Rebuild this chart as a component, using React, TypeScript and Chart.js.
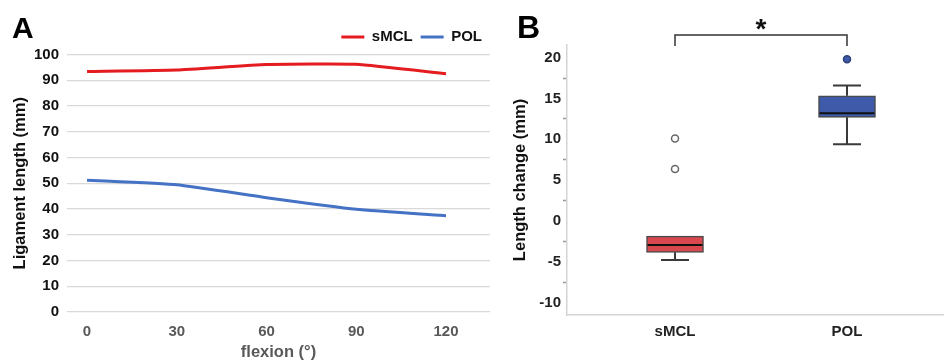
import React, { useEffect, useRef } from 'react';
import { Chart, registerables } from 'chart.js';

Chart.register(...registerables);

const FONT = "'Liberation Sans', Arial, Helvetica, sans-serif";
Chart.defaults.font.family = FONT;

// ---------- Panel A data ----------
const flexionAngles = [0, 30, 60, 90, 120];
const smclLength = [93.4, 94.0, 96.1, 96.2, 92.5];
const polLength = [51.2, 49.4, 44.4, 39.9, 37.4];
const lengthTicks = [0, 10, 20, 30, 40, 50, 60, 70, 80, 90, 100];

// ---------- Panel B data ----------
const groups = ['sMCL', 'POL'];
const groupPos = [1, 2];
const q1 = [-3.83, 12.7];
const medians = [-2.94, 13.2];
const q3 = [-1.84, 15.34];
const whiskerLow = [-4.78, 9.4];
const whiskerHigh = [-1.84, 16.6];
const outlierGroup = [1, 1, 2];
const outlierValues = [10.1, 6.37, 19.8];
const changeTicks = [-10, -7.5, -5, -2.5, 0, 2.5, 5, 7.5, 10, 12.5, 15, 17.5, 20];

const RED = '#E41B1F';
const BLUE = '#4472C4';
const BOX_RED = '#D9474F';
const BOX_BLUE = '#3F5AA8';

const panelLetter = (id: string, letter: string, x: number, y: number, size: number) => ({
  id,
  afterDraw(chart: any) {
    const ctx = chart.ctx;
    ctx.save();
    ctx.fillStyle = '#000';
    ctx.font = `bold ${size}px ${FONT}`;
    ctx.textAlign = 'left';
    ctx.textBaseline = 'alphabetic';
    ctx.fillText(letter, x, y);
    ctx.restore();
  },
});

const boxDetails = {
  id: 'boxDetails',
  afterDatasetsDraw(chart: any) {
    const { ctx } = chart;
    const xs = chart.scales.x;
    const ys = chart.scales.y;
    ctx.save();
    groupPos.forEach((g, i) => {
      const cx = xs.getPixelForValue(g);
      const half = 28.5;
      const cap = 14;
      ctx.strokeStyle = '#3a3a3a';
      ctx.lineWidth = 2;
      ctx.beginPath();
      ctx.moveTo(cx, ys.getPixelForValue(q1[i]));
      ctx.lineTo(cx, ys.getPixelForValue(whiskerLow[i]));
      ctx.moveTo(cx - cap, ys.getPixelForValue(whiskerLow[i]));
      ctx.lineTo(cx + cap, ys.getPixelForValue(whiskerLow[i]));
      if (whiskerHigh[i] > q3[i] + 0.01) {
        ctx.moveTo(cx, ys.getPixelForValue(q3[i]));
        ctx.lineTo(cx, ys.getPixelForValue(whiskerHigh[i]));
        ctx.moveTo(cx - cap, ys.getPixelForValue(whiskerHigh[i]));
        ctx.lineTo(cx + cap, ys.getPixelForValue(whiskerHigh[i]));
      }
      ctx.stroke();
      ctx.strokeStyle = '#111';
      ctx.lineWidth = 2;
      ctx.beginPath();
      ctx.moveTo(cx - half + 1, ys.getPixelForValue(medians[i]));
      ctx.lineTo(cx + half - 1, ys.getPixelForValue(medians[i]));
      ctx.stroke();
    });
    ctx.restore();
  },
  afterDraw(chart: any) {
    const { ctx, chartArea } = chart;
    const xs = chart.scales.x;
    const x1 = xs.getPixelForValue(groupPos[0]);
    const x2 = xs.getPixelForValue(groupPos[1]);
    const yTop = chartArea.top - 10;
    ctx.save();
    ctx.strokeStyle = '#333';
    ctx.lineWidth = 1.5;
    ctx.beginPath();
    ctx.moveTo(x1, yTop + 11);
    ctx.lineTo(x1, yTop);
    ctx.lineTo(x2, yTop);
    ctx.lineTo(x2, yTop + 11);
    ctx.stroke();
    ctx.fillStyle = '#111';
    ctx.font = `bold 28px ${FONT}`;
    ctx.textAlign = 'center';
    ctx.textBaseline = 'alphabetic';
    ctx.fillText('*', (x1 + x2) / 2, yTop + 3);
    ctx.restore();
  },
};

export default function App() {
  const refA = useRef<HTMLCanvasElement>(null);
  const refB = useRef<HTMLCanvasElement>(null);

  useEffect(() => {
    const chartA = new Chart(refA.current as HTMLCanvasElement, {
      type: 'line',
      data: {
        datasets: [
          {
            label: 'sMCL',
            data: flexionAngles.map((x, i) => ({ x, y: smclLength[i] })),
            borderColor: RED,
            backgroundColor: RED,
            borderWidth: 3,
            pointRadius: 0,
            tension: 0.15,
          },
          {
            label: 'POL',
            data: flexionAngles.map((x, i) => ({ x, y: polLength[i] })),
            borderColor: BLUE,
            backgroundColor: BLUE,
            borderWidth: 3,
            pointRadius: 0,
            tension: 0.15,
          },
        ],
      },
      options: {
        animation: false,
        responsive: false,
        layout: { autoPadding: false, padding: { top: 21.5, right: 10, left: 0, bottom: 0 } },
        plugins: {
          tooltip: { enabled: false },
          legend: {
            position: 'top',
            align: 'end',
            labels: {
              boxWidth: 23,
              boxHeight: 0,
              padding: 8,
              color: '#111',
              font: { size: 15, weight: 'bold', family: FONT },
            },
          },
        },
        scales: {
          x: {
            type: 'linear',
            min: -6.7,
            max: 134.7,
            offset: false,
            afterBuildTicks: (s: any) => {
              s.ticks = flexionAngles.map((v) => ({ value: v }));
            },
            afterFit: (s: any) => {
              s.height = 50;
            },
            grid: { display: false, drawTicks: false },
            border: { display: false },
            ticks: {
              color: '#595959',
              font: { size: 15, weight: 'bold', family: FONT },
              padding: 11,
              maxRotation: 0,
              autoSkip: false,
            },
            title: {
              display: true,
              text: 'flexion (°)',
              color: '#595959',
              font: { size: 16.5, weight: 'bold', family: FONT },
              padding: { top: 0, bottom: 0 },
            },
          },
          y: {
            min: 0,
            max: 100,
            afterBuildTicks: (s: any) => {
              s.ticks = lengthTicks.map((v) => ({ value: v }));
            },
            afterFit: (s: any) => {
              s.width = 67;
            },
            grid: { color: '#d9d9d9', lineWidth: 1.3, drawTicks: false },
            border: { display: false },
            ticks: {
              color: '#111',
              font: { size: 15, weight: 'bold', family: FONT },
              padding: 8,
              autoSkip: false,
            },
            title: {
              display: true,
              text: 'Ligament length (mm)',
              color: '#111',
              font: { size: 16.5, weight: 'bold', family: FONT },
              padding: { top: 11, bottom: 0 },
            },
          },
        },
      } as any,
      plugins: [panelLetter('letterA', 'A', 12, 38, 30)],
    });

    const chartB = new Chart(refB.current as HTMLCanvasElement, {
      type: 'bar',
      data: {
        datasets: [
          {
            type: 'bar',
            label: 'box',
            data: groupPos.map((x, i) => ({ x, y: [q1[i], q3[i]] })) as any,
            backgroundColor: [BOX_RED, BOX_BLUE],
            borderColor: '#4a4a4a',
            borderWidth: 1.5,
            borderSkipped: false,
            barThickness: 57,
          },
          {
            type: 'scatter',
            label: 'outliers',
            data: outlierGroup.map((x, i) => ({ x, y: outlierValues[i] })),
            pointRadius: 3.5,
            pointBackgroundColor: ['#fff', '#fff', BOX_BLUE],
            pointBorderColor: ['#666', '#666', '#2a3f7a'],
            pointBorderWidth: 1.5,
          },
        ] as any,
      },
      options: {
        animation: false,
        responsive: false,
        layout: { autoPadding: false, padding: { top: 45, right: 0, left: 0, bottom: 0 } },
        plugins: { legend: { display: false }, tooltip: { enabled: false } },
        scales: {
          x: {
            type: 'linear',
            min: 0.372,
            max: 2.564,
            offset: false,
            afterBuildTicks: (s: any) => {
              s.ticks = groupPos.map((v) => ({ value: v }));
            },
            afterFit: (s: any) => {
              s.height = 47;
            },
            grid: { display: false, drawTicks: false, offset: false },
            border: { display: true, color: '#d4d4d4', width: 1.5 },
            ticks: {
              callback: (v: any) => groups[groupPos.indexOf(Number(v))] ?? '',
              color: '#222',
              font: { size: 15, weight: 'bold', family: FONT },
              padding: 8,
              maxRotation: 0,
              autoSkip: false,
            },
          },
          y: {
            min: -11.5,
            max: 21.55,
            afterBuildTicks: (s: any) => {
              s.ticks = changeTicks.map((v) => ({ value: v }));
            },
            afterFit: (s: any) => {
              s.width = 67;
            },
            grid: {
              display: true,
              drawOnChartArea: false,
              drawTicks: true,
              tickLength: 4,
              tickWidth: 1.5,
              tickColor: (c: any) =>
                c.tick && Math.abs(c.tick.value % 5) > 0.01 ? '#9a9a9a' : 'rgba(0,0,0,0)',
            },
            border: { display: true, color: '#d4d4d4', width: 1.5 },
            ticks: {
              callback: (v: any) => (Math.abs(Number(v) % 5) < 0.01 ? String(v) : ''),
              color: '#222',
              font: { size: 15, weight: 'bold', family: FONT },
              padding: 2,
              autoSkip: false,
            },
            title: {
              display: true,
              text: 'Length change (mm)',
              color: '#111',
              font: { size: 16.5, weight: 'bold', family: FONT },
              padding: { top: 11, bottom: 0 },
            },
          },
        },
      } as any,
      plugins: [boxDetails, panelLetter('letterB', 'B', 17, 38, 32)],
    });

    return () => {
      chartA.destroy();
      chartB.destroy();
    };
  }, []);

  return (
    <div
      style={{
        position: 'fixed',
        left: 0,
        top: 0,
        width: 944,
        height: 362,
        background: '#fff',
      }}
    >
      <canvas
        ref={refA}
        width={500}
        height={362}
        style={{ position: 'absolute', left: 0, top: 0, width: 500, height: 362 }}
      />
      <canvas
        ref={refB}
        width={444}
        height={362}
        style={{ position: 'absolute', left: 500, top: 0, width: 444, height: 362 }}
      />
    </div>
  );
}
